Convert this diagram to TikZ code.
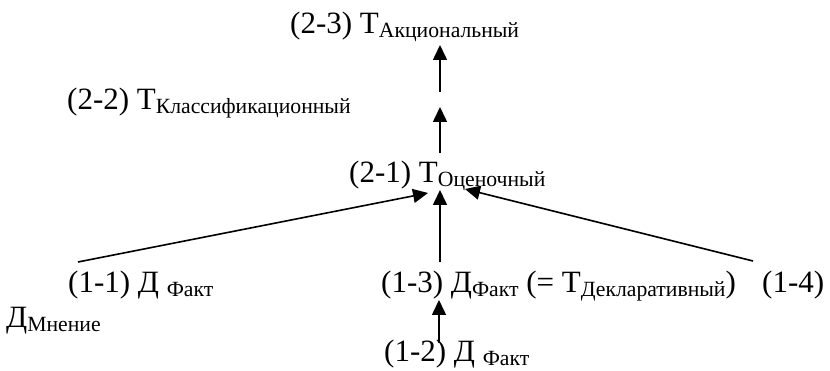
\documentclass[tikz,border=0pt]{standalone}
\usepackage{fontspec}
\setmainfont{Liberation Serif}
\usetikzlibrary{arrows.meta}
\newcommand{\sbx}[1]{\raisebox{-4pt}{\fontsize{21.7}{24}\selectfont #1}}
\begin{document}
\begin{tikzpicture}[x=1pt,y=-1pt,
  lbl/.style={anchor=base west, inner sep=0pt, font=\fontsize{31}{35}\selectfont},
  arr/.style={line width=1.6pt, -{Triangle[width=14pt,length=15pt]}}]
\useasboundingbox (0,0) rectangle (830,371);
% nodes
\node[lbl] (n23) at (290,34) {(2-3) Т\sbx{Акциональный}};
\node[lbl] (n22) at (67,110) {(2-2) Т\sbx{Классификационный}};
\node[lbl] (n21) at (349,183) {(2-1) Т\sbx{Оценочный}};
\node[lbl] (n11) at (68,293) {(1-1) Д \sbx{Факт}};
\node[lbl] (nm) at (6,327) {Д\sbx{Мнение}};
\node[lbl] (n13) at (381,293) {(1-3) Д\sbx{Факт} (= Т\sbx{Декларативный})};
\node[lbl] (n14) at (762,293) {(1-4)};
\node[lbl] (n12) at (384,361) {(1-2) Д \sbx{Факт}};
% connector ends
\coordinate (t23) at (440,45);
\coordinate (s22) at (440,92);
\coordinate (t22) at (440,107);
\coordinate (s21) at (440,153);
\coordinate (t21l) at (428,193);
\coordinate (t21c) at (440,190);
\coordinate (t21r) at (465,189);
\coordinate (s11) at (78,262);
\coordinate (s13) at (440,262);
\coordinate (s14) at (753,261);
\coordinate (t13) at (439,300);
\coordinate (s12) at (439,343);
% connectors
\draw[arr] (s22) -- (t23);
\draw[arr] (s21) -- (t22);
\draw[arr] (s11) -- (t21l);
\draw[arr] (s13) -- (t21c);
\draw[arr] (s14) -- (t21r);
\draw[arr] (s12) -- (t13);
\end{tikzpicture}
\end{document}
